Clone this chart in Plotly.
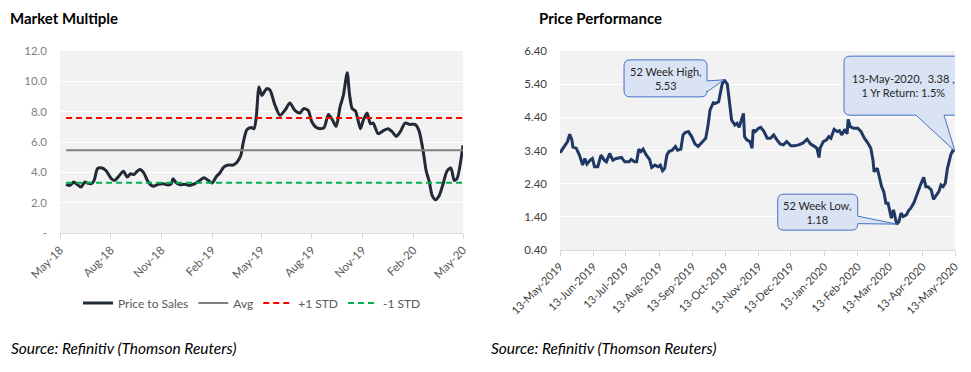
import plotly.graph_objects as go

# ---------------- Left chart: Market Multiple (Price to Sales) ----------------
ps_dates = [
    "2018-05-12", "2018-05-19", "2018-05-26", "2018-06-01", "2018-06-08", "2018-06-15",
    "2018-06-19", "2018-06-27", "2018-07-02", "2018-07-08", "2018-07-16", "2018-07-24",
    "2018-08-02", "2018-08-08", "2018-08-16", "2018-08-24", "2018-08-31", "2018-09-06",
    "2018-09-12", "2018-09-18", "2018-09-23", "2018-09-30", "2018-10-08", "2018-10-17",
    "2018-10-26", "2018-11-04", "2018-11-13", "2018-11-19", "2018-11-22", "2018-11-28",
    "2018-12-04", "2018-12-13", "2018-12-22", "2019-01-01", "2019-01-10", "2019-01-17",
    "2019-01-25", "2019-02-01", "2019-02-09", "2019-02-15", "2019-02-22", "2019-03-02",
    "2019-03-11", "2019-03-18", "2019-03-25", "2019-03-29", "2019-04-05", "2019-04-13",
    "2019-04-18", "2019-04-22", "2019-04-27", "2019-05-02", "2019-05-11", "2019-05-17",
    "2019-05-26", "2019-06-04", "2019-06-13", "2019-06-22", "2019-07-01", "2019-07-10",
    "2019-07-17", "2019-07-25", "2019-08-01", "2019-08-09", "2019-08-16", "2019-08-23",
    "2019-08-31", "2019-09-07", "2019-09-14", "2019-09-21", "2019-09-27", "2019-10-04",
    "2019-10-08", "2019-10-13", "2019-10-19", "2019-10-28", "2019-11-02", "2019-11-09",
    "2019-11-15", "2019-11-20", "2019-11-29", "2019-12-08", "2019-12-17", "2019-12-25",
    "2020-01-01", "2020-01-08", "2020-01-17", "2020-01-26", "2020-02-04", "2020-02-11",
    "2020-02-19", "2020-02-24", "2020-03-01", "2020-03-06", "2020-03-12", "2020-03-19",
    "2020-03-26", "2020-04-02", "2020-04-09", "2020-04-15", "2020-04-20", "2020-05-01",
]
ps_values = [
    3.21, 3.14, 3.36, 3.20, 3.03, 3.36,
    3.30, 3.25, 3.47, 4.24, 4.29, 4.09,
    3.58, 3.47, 3.76, 4.07, 3.69, 3.91,
    3.85, 4.07, 4.18, 3.96, 3.36, 3.08,
    3.21, 3.25, 3.16, 3.25, 3.58, 3.30,
    3.19, 3.21, 3.14, 3.25, 3.47, 3.65,
    3.47, 3.30, 3.74, 3.96, 4.35, 4.48,
    4.48, 4.66, 5.12, 5.89, 6.81, 6.95,
    6.88, 7.65, 9.63, 9.08, 9.52, 9.41,
    8.42, 7.76, 8.09, 8.57, 8.09, 7.91,
    8.20, 8.09, 7.32, 6.95, 6.88, 6.95,
    7.82, 7.47, 7.03, 8.31, 9.08, 10.57,
    9.19, 8.20, 8.04, 6.88, 7.43, 7.91,
    7.21, 7.25, 6.55, 6.73, 6.88, 6.66,
    6.37, 6.66, 7.25, 7.16, 7.16, 6.77,
    5.34, 4.13, 3.36, 2.48, 2.20, 2.48,
    3.25, 4.09, 4.29, 3.47, 3.58, 5.78,
]
ps_avg = 5.45
ps_plus_std = 7.58
ps_minus_std = 3.31
left_tick_dates = ["2018-05-01", "2018-08-01", "2018-11-01", "2019-02-01", "2019-05-01",
                   "2019-08-01", "2019-11-01", "2020-02-01", "2020-05-01"]
left_y_ticks = [0, 2, 4, 6, 8, 10, 12]
left_y_labels = ["-", "2.0", "4.0", "6.0", "8.0", "10.0", "12.0"]

# ---------------- Right chart: Price Performance ----------------
price_dates = [
    "2019-05-13", "2019-05-16", "2019-05-20", "2019-05-22", "2019-05-24", "2019-05-25",
    "2019-05-28", "2019-05-31", "2019-06-03", "2019-06-05", "2019-06-07", "2019-06-10",
    "2019-06-12", "2019-06-14", "2019-06-17", "2019-06-20", "2019-06-23", "2019-06-25",
    "2019-06-28", "2019-07-01", "2019-07-04", "2019-07-09", "2019-07-12", "2019-07-16",
    "2019-07-18", "2019-07-21", "2019-07-23", "2019-07-25", "2019-07-27", "2019-07-29",
    "2019-08-01", "2019-08-04", "2019-08-06", "2019-08-09", "2019-08-12", "2019-08-14",
    "2019-08-16", "2019-08-18", "2019-08-20", "2019-08-22", "2019-08-25", "2019-08-28",
    "2019-08-30", "2019-09-02", "2019-09-04", "2019-09-06", "2019-09-09", "2019-09-12",
    "2019-09-15", "2019-09-18", "2019-09-21", "2019-09-25", "2019-09-27", "2019-09-29",
    "2019-10-02", "2019-10-04", "2019-10-07", "2019-10-09", "2019-10-10", "2019-10-12",
    "2019-10-15", "2019-10-17", "2019-10-19", "2019-10-22", "2019-10-24", "2019-10-26",
    "2019-10-28", "2019-10-30", "2019-10-31", "2019-11-02", "2019-11-05", "2019-11-07",
    "2019-11-08", "2019-11-10", "2019-11-13", "2019-11-15", "2019-11-18", "2019-11-21",
    "2019-11-24", "2019-11-27", "2019-11-30", "2019-12-03", "2019-12-06", "2019-12-09",
    "2019-12-13", "2019-12-16", "2019-12-20", "2019-12-24", "2019-12-28", "2019-12-31",
    "2020-01-03", "2020-01-06", "2020-01-08", "2020-01-09", "2020-01-12", "2020-01-15",
    "2020-01-17", "2020-01-19", "2020-01-22", "2020-01-25", "2020-01-27", "2020-01-29",
    "2020-02-01", "2020-02-03", "2020-02-04", "2020-02-06", "2020-02-09", "2020-02-13",
    "2020-02-16", "2020-02-19", "2020-02-22", "2020-02-25", "2020-02-27", "2020-02-28",
    "2020-03-02", "2020-03-04", "2020-03-06", "2020-03-08", "2020-03-10", "2020-03-12",
    "2020-03-14", "2020-03-15", "2020-03-17", "2020-03-19", "2020-03-20", "2020-03-22",
    "2020-03-24", "2020-03-26", "2020-03-29", "2020-03-31", "2020-04-02", "2020-04-05",
    "2020-04-07", "2020-04-09", "2020-04-11", "2020-04-14", "2020-04-16", "2020-04-18",
    "2020-04-21", "2020-04-23", "2020-04-25", "2020-04-28", "2020-04-30", "2020-05-02",
    "2020-05-04", "2020-05-06", "2020-05-09", "2020-05-11", "2020-05-13",
]
price_values = [
    3.33, 3.47, 3.67, 3.89, 3.72, 3.50,
    3.47, 3.26, 2.96, 3.16, 2.99, 3.11,
    3.16, 2.91, 2.91, 3.26, 3.11, 3.06,
    3.31, 3.11, 3.16, 3.19, 3.06, 3.06,
    3.13, 3.06, 3.06, 3.44, 3.37, 3.44,
    3.26, 3.13, 2.89, 2.96, 2.91, 2.96,
    2.79, 2.86, 3.26, 3.37, 3.41, 3.52,
    3.41, 3.44, 3.87, 3.94, 3.97, 3.82,
    3.60, 3.52, 3.64, 3.77, 4.12, 4.62,
    4.84, 4.82, 4.87, 5.24, 5.37, 5.53,
    5.40, 4.87, 4.32, 4.17, 4.22, 4.10,
    4.32, 4.52, 3.82, 3.72, 3.67, 3.47,
    4.02, 3.97, 4.07, 4.10, 3.97, 3.77,
    3.77, 3.87, 3.72, 3.60, 3.57, 3.67,
    3.54, 3.54, 3.57, 3.62, 3.74, 3.60,
    3.54, 3.47, 3.19, 3.47, 3.67, 3.72,
    3.82, 3.77, 4.04, 3.97, 4.00, 3.87,
    4.04, 3.90, 4.34, 4.12, 4.07, 4.07,
    3.97, 3.77, 3.64, 3.47, 3.11, 2.76,
    2.86, 2.56, 2.31, 2.16, 1.81, 1.81,
    1.51, 1.36, 1.61, 1.25, 1.18, 1.25,
    1.51, 1.41, 1.46, 1.59, 1.66, 1.83,
    2.03, 2.16, 2.36, 2.59, 2.31, 2.31,
    2.21, 1.93, 2.01, 2.16, 2.36, 2.31,
    2.41, 2.86, 3.26, 3.41, 3.38,
]
right_tick_dates = ["2019-05-13", "2019-06-13", "2019-07-13", "2019-08-13", "2019-09-13",
                    "2019-10-13", "2019-11-13", "2019-12-13", "2020-01-13", "2020-02-13",
                    "2020-03-13", "2020-04-13", "2020-05-13"]
one_year_return = "1.5%"

# page body has an 8px margin: the figure is sized to fit the window inside it
OFF = 8
W, H = 971 - 2 * OFF, 372 - 2 * OFF
FONT = "Lato, 'Open Sans', sans-serif"


def px_x(v):
    return (v - OFF) / W


def px_y(v):
    return 1 - (v - OFF) / H


fig = go.Figure()

fig.add_trace(go.Scatter(
    x=ps_dates, y=ps_values, mode="lines", name="Price to Sales",
    line=dict(color="#222a35", width=3, shape="spline", smoothing=0.7),
    xaxis="x", yaxis="y"))
fig.add_trace(go.Scatter(
    x=[ps_dates[0], ps_dates[-1]], y=[ps_avg, ps_avg], mode="lines", name="Avg",
    line=dict(color="#808080", width=2), xaxis="x", yaxis="y"))
fig.add_trace(go.Scatter(
    x=[ps_dates[0], ps_dates[-1]], y=[ps_plus_std, ps_plus_std], mode="lines", name="+1 STD",
    line=dict(color="#ff0000", width=2, dash="6px,4px"), xaxis="x", yaxis="y"))
fig.add_trace(go.Scatter(
    x=[ps_dates[0], ps_dates[-1]], y=[ps_minus_std, ps_minus_std], mode="lines", name="-1 STD",
    line=dict(color="#00b050", width=2, dash="6px,4px"), xaxis="x", yaxis="y"))

fig.add_trace(go.Scatter(
    x=price_dates, y=price_values, mode="lines", showlegend=False,
    line=dict(color="#1f3864", width=3), xaxis="x2", yaxis="y2"))


def callout_path(box, wedge_side, w0, w1, r=6):
    """box=(x0,x1,y0,y1) in screen pixel offsets from tip (y down). Returns path with y up."""
    x0, x1, y0, y1 = box
    pts = []

    def P(cmd, x, y):
        pts.append(f"{cmd}{x},{-y}")

    P("M", x0 + r, y0)
    P("L", x1 - r, y0)
    pts.append(f"Q{x1},{-y0} {x1},{-(y0 + r)}")
    if wedge_side == "right":
        P("L", x1, w0)
        P("L", 0, 0)
        P("L", x1, w1)
    P("L", x1, y1 - r)
    pts.append(f"Q{x1},{-y1} {x1 - r},{-y1}")
    if wedge_side == "bottom":
        P("L", w1, y1)
        P("L", 0, 0)
        P("L", w0, y1)
    P("L", x0 + r, y1)
    pts.append(f"Q{x0},{-y1} {x0},{-(y1 - r)}")
    P("L", x0, y0 + r)
    pts.append(f"Q{x0},{-y0} {x0 + r},{-y0}")
    pts.append("Z")
    return " ".join(pts)


i_hi = price_values.index(max(price_values))
i_lo = price_values.index(min(price_values))
i_last = len(price_values) - 1

callouts = [
    (price_dates[i_hi], price_values[i_hi], (-100, -17, -20, 17), "right", 1, 12,
     f"52 Week High,<br>{price_values[i_hi]:.2f}"),
    (price_dates[i_lo], price_values[i_lo], (-119, -39, -30, 6), "right", -8, -0.5,
     f"52 Week Low,<br>{price_values[i_lo]:.2f}"),
    (price_dates[i_last], price_values[i_last], (-111, 8, -95, -36), "bottom", -39, -11,
     f"13-May-2020,&nbsp; {price_values[i_last]:.2f} ,<br>1 Yr Return: {one_year_return}"),
]

shapes = []
annotations = []
for xd, yv, box, side, w0, w1, txt in callouts:
    shapes.append(dict(
        type="path", xref="x2", yref="y2", xsizemode="pixel", ysizemode="pixel",
        xanchor=xd, yanchor=yv, path=callout_path(box, side, w0, w1),
        fillcolor="#dae3f3", line=dict(color="#4472c4", width=1), layer="above"))
    cx = (box[0] + box[1]) / 2
    cy = (box[2] + box[3]) / 2
    annotations.append(dict(
        xref="x2", yref="y2", x=xd, y=yv, text=txt, showarrow=False,
        xshift=cx, yshift=-cy, xanchor="center", yanchor="middle", align="center",
        font=dict(size=11, color="#262626", family=FONT)))

annotations += [
    dict(xref="paper", yref="paper", x=px_x(9), y=1.0, text="<b>Market Multiple</b>",
         showarrow=False, xanchor="left", yanchor="top", borderpad=0,
         font=dict(size=15, color="#000000", family=FONT)),
    dict(xref="paper", yref="paper", x=px_x(538), y=1.0, text="<b>Price Performance</b>",
         showarrow=False, xanchor="left", yanchor="top", borderpad=0,
         font=dict(size=15, color="#000000", family=FONT)),
    dict(xref="paper", yref="paper", x=px_x(9), y=px_y(348),
         text="<i>Source: Refinitiv (Thomson Reuters)</i>",
         showarrow=False, xanchor="left", yanchor="middle",
         font=dict(size=15.5, color="#000000", family=FONT)),
    dict(xref="paper", yref="paper", x=px_x(489), y=px_y(348),
         text="<i>Source: Refinitiv (Thomson Reuters)</i>",
         showarrow=False, xanchor="left", yanchor="middle",
         font=dict(size=15.5, color="#000000", family=FONT)),
]

fig.update_layout(
    width=W, height=H,
    margin=dict(l=0, r=0, t=0, b=0),
    paper_bgcolor="white",
    plot_bgcolor="#f2f2f2",
    font=dict(family=FONT, size=11, color="#595959"),
    showlegend=True,
    legend=dict(orientation="h", x=px_x(252), xanchor="center", y=px_y(303), yanchor="middle",
                font=dict(size=12, color="#595959"), bgcolor="rgba(0,0,0,0)"),
    xaxis=dict(domain=[px_x(60), px_x(463)], anchor="y", type="date",
               range=["2018-05-01", "2020-05-01"], tickmode="array", tickvals=left_tick_dates,
               tickformat="%b-%y", tickangle=-45, ticks="outside", ticklen=5,
               tickcolor="#d9d9d9", showline=True, linecolor="#d9d9d9", linewidth=1,
               showgrid=False, zeroline=False, automargin=False,
               tickfont=dict(size=11.5, color="#595959")),
    yaxis=dict(domain=[px_y(233), px_y(51)], anchor="x", range=[0, 12],
               tickmode="array", tickvals=left_y_ticks, ticktext=left_y_labels,
               showgrid=True, gridcolor="white", gridwidth=1, zeroline=False,
               showline=False, ticks="", ticklabelstandoff=12, automargin=False,
               tickfont=dict(size=11.5, color="#808080")),
    xaxis2=dict(domain=[px_x(560), px_x(955)], anchor="y2", type="date",
                range=["2019-05-13", "2020-05-13"], tickmode="array", tickvals=right_tick_dates,
                tickformat="%d-%b-%Y", tickangle=-45, ticks="outside", ticklen=5,
                tickcolor="#d9d9d9", showline=True, linecolor="#d9d9d9", linewidth=1,
                showgrid=False, zeroline=False, automargin=False,
                tickfont=dict(size=11, color="#404040")),
    yaxis2=dict(domain=[px_y(250), px_y(51)], anchor="x2", range=[0.4, 6.4],
                tick0=0.4, dtick=1, tickformat=".2f",
                showgrid=True, gridcolor="white", gridwidth=1, zeroline=False,
                showline=False, ticks="", ticklabelstandoff=12, automargin=False,
                tickfont=dict(size=11.5, color="#404040")),
    shapes=shapes,
    annotations=annotations,
)

fig.write_html("out.html")
